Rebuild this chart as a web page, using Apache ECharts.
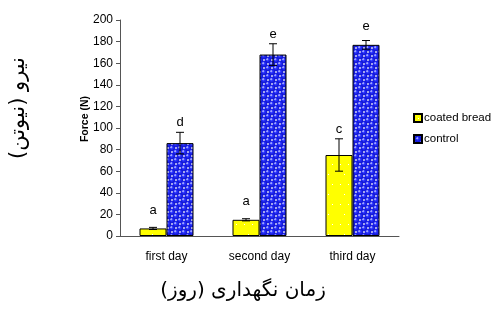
<!DOCTYPE html>
<html>
<head>
<meta charset="utf-8">
<script src="https://cdn.jsdelivr.net/npm/echarts@6/dist/echarts.min.js"></script>
<style>
  html, body { margin: 0; padding: 0; background: #fff; }
  #chart { width: 495px; height: 309px; }
</style>
</head>
<body>
<div id="chart"></div>
<script>
// values
var categories = ['first day', 'second day', 'third day'];
var coatedValues = [7, 15, 75];
var coatedErrors = [1, 1, 15];
var controlValues = [86, 168, 177];
var controlErrors = [10, 10, 4];
var coatedLetters = ['a', 'a', 'c'];
var controlLetters = ['d', 'e', 'e'];
var yTicks = [0, 20, 40, 60, 80, 100, 120, 140, 160, 180, 200];

// blue ball pattern for control
function ballPattern() {
    var c = document.createElement('canvas');
    c.width = 8; c.height = 8;
    var ctx = c.getContext('2d');
    ctx.fillStyle = '#ffffff';
    ctx.fillRect(0, 0, 8, 8);
    var centers = [[4, 4], [0, 0], [8, 0], [0, 8], [8, 8]];
    centers.forEach(function (p) {
        var g = ctx.createRadialGradient(p[0] - 1, p[1] - 1, 0.3, p[0], p[1], 3.4);
        g.addColorStop(0, '#c8ccff');
        g.addColorStop(0.35, '#2a33ff');
        g.addColorStop(1, '#0c10c8');
        ctx.fillStyle = g;
        ctx.beginPath();
        ctx.arc(p[0], p[1], 3.3, 0, Math.PI * 2);
        ctx.fill();
    });
    return c;
}

// yellow with sparse white dots
function dotPattern() {
    var c = document.createElement('canvas');
    c.width = 16; c.height = 20;
    var ctx = c.getContext('2d');
    ctx.fillStyle = '#ffff00';
    ctx.fillRect(0, 0, 16, 20);
    ctx.fillStyle = '#ffffff';
    ctx.fillRect(4, 4, 1, 1);
    ctx.fillRect(12, 4, 1, 1);
    ctx.fillRect(8, 14, 1, 1);
    return c;
}

var barW = 27;

function errorRender(values, errors, letters, offset) {
    return function (params, api) {
        var i = api.value(0);
        var v = values[i], e = errors[i];
        var x = api.coord([i, 0])[0] + offset;
        var yTop = api.coord([i, v + e])[1];
        var yBot = api.coord([i, v - e])[1];
        var yBar = api.coord([i, v])[1];
        var labelY = Math.min(yBar - 12, yTop - 3);
        var st = { stroke: '#000', lineWidth: 1 };
        return {
            type: 'group',
            children: [
                { type: 'line', shape: { x1: x, y1: yTop, x2: x, y2: yBot }, style: st },
                { type: 'line', shape: { x1: x - 4, y1: yTop, x2: x + 4, y2: yTop }, style: st },
                { type: 'line', shape: { x1: x - 4, y1: yBot, x2: x + 4, y2: yBot }, style: st },
                { type: 'text', style: { text: letters[i], x: x, y: labelY, align: 'center', verticalAlign: 'bottom',
                    font: '13px "Liberation Sans", Arial', fill: '#000' } }
            ]
        };
    };
}

var chart = echarts.init(document.getElementById('chart'));
chart.setOption({
    animation: false,
    textStyle: { fontFamily: '"Liberation Sans", Arial' },
    grid: { left: 120, right: 96, top: 20, bottom: 73 },
    legend: {
        orient: 'vertical',
        left: 408,
        top: 107,
        itemWidth: 8,
        itemHeight: 8,
        itemGap: 9,
        icon: 'rect',
        data: ['coated bread', 'control'],
        textStyle: { fontSize: 11.5, color: '#000', padding: [0, 0, 0, -3] }
    },
    xAxis: {
        type: 'category',
        data: categories,
        axisLine: { lineStyle: { color: '#555' } },
        axisTick: { length: 4, lineStyle: { color: '#555' } },
        axisLabel: { fontSize: 12, color: '#000', margin: 15 }
    },
    yAxis: {
        type: 'value',
        min: 0,
        max: 200,
        interval: 20,
        splitLine: { show: false },
        axisLine: { show: true, lineStyle: { color: '#555' } },
        axisTick: { show: true, length: 4, lineStyle: { color: '#555' } },
        axisLabel: { fontSize: 12, color: '#000', margin: 7,
            formatter: function (v) { return yTicks.indexOf(v) >= 0 ? String(v) : ''; } }
    },
    series: [
        {
            name: 'coated bread',
            type: 'bar',
            data: coatedValues,
            barWidth: barW,
            barGap: '0%',
            itemStyle: { color: { image: dotPattern(), repeat: 'repeat' }, borderColor: '#000', borderWidth: 1 }
        },
        {
            name: 'control',
            type: 'bar',
            data: controlValues,
            barWidth: barW,
            barGap: '0%',
            itemStyle: { color: { image: ballPattern(), repeat: 'repeat' }, borderColor: '#000', borderWidth: 1 }
        },
        {
            type: 'custom',
            data: categories.map(function (c, i) { return [i]; }),
            renderItem: errorRender(coatedValues, coatedErrors, coatedLetters, -barW / 2),
            z: 5
        },
        {
            type: 'custom',
            data: categories.map(function (c, i) { return [i]; }),
            renderItem: errorRender(controlValues, controlErrors, controlLetters, barW / 2),
            z: 5
        }
    ],
    graphic: [
        {
            type: 'text',
            x: 85,
            y: 119,
            rotation: Math.PI / 2,
            style: { text: 'Force (N)', font: 'bold 10.5px "Liberation Sans", Arial', fill: '#000',
                align: 'center', verticalAlign: 'middle' }
        },
        {
            type: 'text',
            x: 243,
            y: 291,
            style: { text: 'زمان نگهداری (روز)', font: '20px "DejaVu Sans"', fill: '#000',
                align: 'center', verticalAlign: 'middle' }
        },
        {
            type: 'text',
            x: 19,
            y: 108,
            rotation: Math.PI / 2,
            style: { text: 'نیرو (نیوتن)', font: '21px "DejaVu Sans"', fill: '#000',
                align: 'center', verticalAlign: 'middle' }
        }
    ]
});
</script>
</body>
</html>
